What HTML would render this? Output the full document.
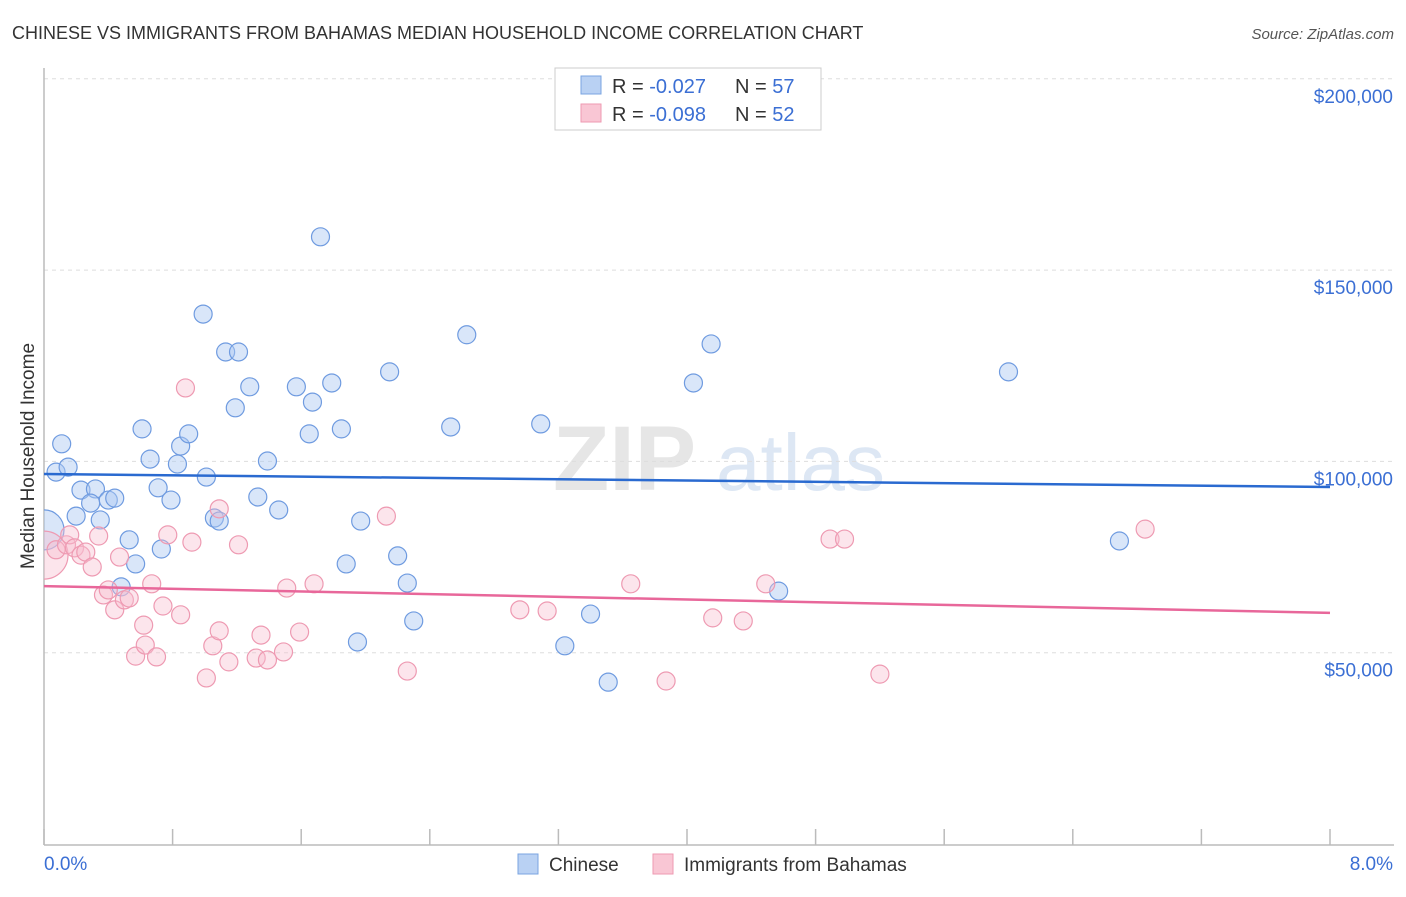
<!DOCTYPE html>
<html><head><meta charset="utf-8"><style>
body{margin:0;background:#fff;font-family:"Liberation Sans",sans-serif;}
svg text{font-family:"Liberation Sans",sans-serif;}
</style></head><body>
<svg id="c" width="1406" height="892" xmlns="http://www.w3.org/2000/svg">
<defs><clipPath id="plotclip"><rect x="44" y="60" width="1360" height="786"/></clipPath></defs>
<text x="12" y="39" font-size="18" fill="#333">CHINESE VS IMMIGRANTS FROM BAHAMAS MEDIAN HOUSEHOLD INCOME CORRELATION CHART</text>
<text x="1394" y="39" font-size="15" fill="#555" text-anchor="end" font-style="italic">Source: ZipAtlas.com</text>
<g><text x="553" y="490" font-size="92" fill="#e6e6e6" font-family="Liberation Serif" font-weight="bold">ZIP</text><text x="716" y="490" font-size="80" fill="#dde7f4">atlas</text></g>
<g id="grid"></g>
<g id="axes"></g>
<g id="pts" clip-path="url(#plotclip)"></g>
<text transform="translate(34,456) rotate(-90)" font-size="19" fill="#333" text-anchor="middle">Median Household Income</text>
<text x="44" y="870" font-size="19" fill="#3b6fd4">0.0%</text>
<text x="1393" y="870" font-size="19" fill="#3b6fd4" text-anchor="end">8.0%</text>
<g>
<rect x="555" y="68" width="266" height="62" fill="#fff" stroke="#ccc"/>
<rect x="581" y="76" width="20" height="18" fill="#b9d1f3" stroke="#7aa4e0"/>
<rect x="581" y="104" width="20" height="18" fill="#f9c6d4" stroke="#ee9ab2"/>
<text x="612" y="93" font-size="20" fill="#333">R = <tspan fill="#3b6fd4">-0.027</tspan><tspan x="735">N = </tspan><tspan fill="#3b6fd4">57</tspan></text>
<text x="612" y="121" font-size="20" fill="#333">R = <tspan fill="#3b6fd4">-0.098</tspan><tspan x="735">N = </tspan><tspan fill="#3b6fd4">52</tspan></text>
</g>
<g>
<rect x="518" y="854" width="20" height="20" fill="#b9d1f3" stroke="#7aa4e0"/>
<text x="549" y="871" font-size="19" fill="#333">Chinese</text>
<rect x="653" y="854" width="20" height="20" fill="#f9c6d4" stroke="#ee9ab2"/>
<text x="684" y="871" font-size="19" fill="#333">Immigrants from Bahamas</text>
</g>
</svg>
<script>
const yTicks=[50000,100000,150000,200000];
const yTickLabels=["$50,000","$100,000","$150,000","$200,000"];
const xTicks=[0,0.8,1.6,2.4,3.2,4.0,4.8,5.6,6.4,7.2,8.0];
const chineseX=[0,0.075,0.11,0.15,0.23,0.32,0.20,0.29,0.35,0.40,0.44,0.48,0.53,0.57,0.61,0.66,0.71,0.73,0.79,0.83,0.85,0.90,0.99,1.01,1.06,1.09,1.13,1.19,1.21,1.28,1.33,1.39,1.46,1.57,1.65,1.67,1.72,1.79,1.85,1.88,1.95,1.97,2.15,2.20,2.26,2.30,2.53,2.63,3.09,3.24,3.40,3.51,4.04,4.15,4.57,6.00,6.69];
const chineseY=[82.1,97.2,104.6,98.5,92.5,92.8,85.7,89.1,84.7,89.9,90.4,67.2,79.5,73.2,108.5,100.6,93.1,77.1,89.9,99.3,104.0,107.2,138.5,95.9,85.2,84.4,128.6,114.0,128.6,119.5,90.7,100.1,87.3,119.5,107.2,115.5,158.7,120.5,108.5,73.2,52.8,84.4,123.4,75.3,68.2,58.3,109.0,133.1,109.8,51.8,60.1,42.3,120.5,130.7,66.1,123.4,79.2];
const bahamasX=[0,0.075,0.14,0.16,0.19,0.23,0.26,0.30,0.34,0.37,0.40,0.44,0.47,0.50,0.53,0.57,0.62,0.63,0.67,0.70,0.74,0.77,0.85,0.88,0.92,1.01,1.05,1.09,1.09,1.15,1.21,1.32,1.35,1.39,1.49,1.51,1.59,1.68,2.13,2.26,2.96,3.13,3.65,3.87,4.16,4.35,4.49,4.89,4.98,5.20,6.85];
const bahamasY=[75.5,76.9,78.2,80.8,77.4,75.5,76.3,72.4,80.5,65.1,66.4,61.2,75.0,63.8,64.3,49.1,57.2,52.0,68.0,48.9,62.2,80.8,59.9,119.2,78.9,43.4,51.8,87.6,55.7,47.6,78.2,48.6,54.6,48.1,50.2,66.9,55.4,68.0,85.7,45.2,61.2,60.9,68.0,42.6,59.1,58.3,68.0,79.7,79.7,44.4,82.3];
const chineseTrend=[96.7,93.3];
const bahamasTrend=[67.4,60.4];
const NS="http://www.w3.org/2000/svg";
const X=v=>44+v/8*1286;
const Y=v=>844-v/50000*191.3;
const Yk=v=>Y(v*1000);
function mk(p,t,a){const e=document.createElementNS(NS,t);for(const k in a)e.setAttribute(k,a[k]);p.appendChild(e);return e;}
const g=document.getElementById('grid'),ax=document.getElementById('axes'),pts=document.getElementById('pts');
yTicks.forEach((v,i)=>{
 const l=mk(g,'line',{x1:44,x2:1394,y1:Y(v),y2:Y(v),stroke:'#ddd','stroke-dasharray':'4,4'});
 
 
 const t=mk(g,'text',{x:1393,y:Y(v)+24,'font-size':19,fill:'#3b6fd4','text-anchor':'end'});
 t.textContent=yTickLabels[i];
 
 
});
mk(ax,'line',{x1:44,x2:44,y1:68,y2:845,stroke:'#bbb','stroke-width':1.5});
mk(ax,'line',{x1:44,x2:1394,y1:845,y2:845,stroke:'#bbb','stroke-width':1.5});
xTicks.forEach(v=>{
 const t=mk(ax,'line',{x1:X(v),x2:X(v),y1:829,y2:845,stroke:'#bbb','stroke-width':1.5});
 
 
});
chineseX.forEach((x,i)=>{
 const r=i===0?20:9;
 const c=mk(pts,'circle',{cx:X(x),cy:Yk(chineseY[i]),r:r,fill:'rgba(170,200,242,0.45)',stroke:'#6f9be0','stroke-width':1.2});
 
 
});
bahamasX.forEach((x,i)=>{
 const r=i===0?24:9;
 const c=mk(pts,'circle',{cx:X(x),cy:Yk(bahamasY[i]),r:r,fill:'rgba(248,190,208,0.4)',stroke:'#ee9ab2','stroke-width':1.2});
 
 
});
const l1=mk(pts,'line',{x1:X(0),x2:X(8),y1:Yk(chineseTrend[0]),y2:Yk(chineseTrend[1]),stroke:'#2a6ad0','stroke-width':2.5});


const l2=mk(pts,'line',{x1:X(0),x2:X(8),y1:Yk(bahamasTrend[0]),y2:Yk(bahamasTrend[1]),stroke:'#e8679a','stroke-width':2.5});


</script>
</body></html>
